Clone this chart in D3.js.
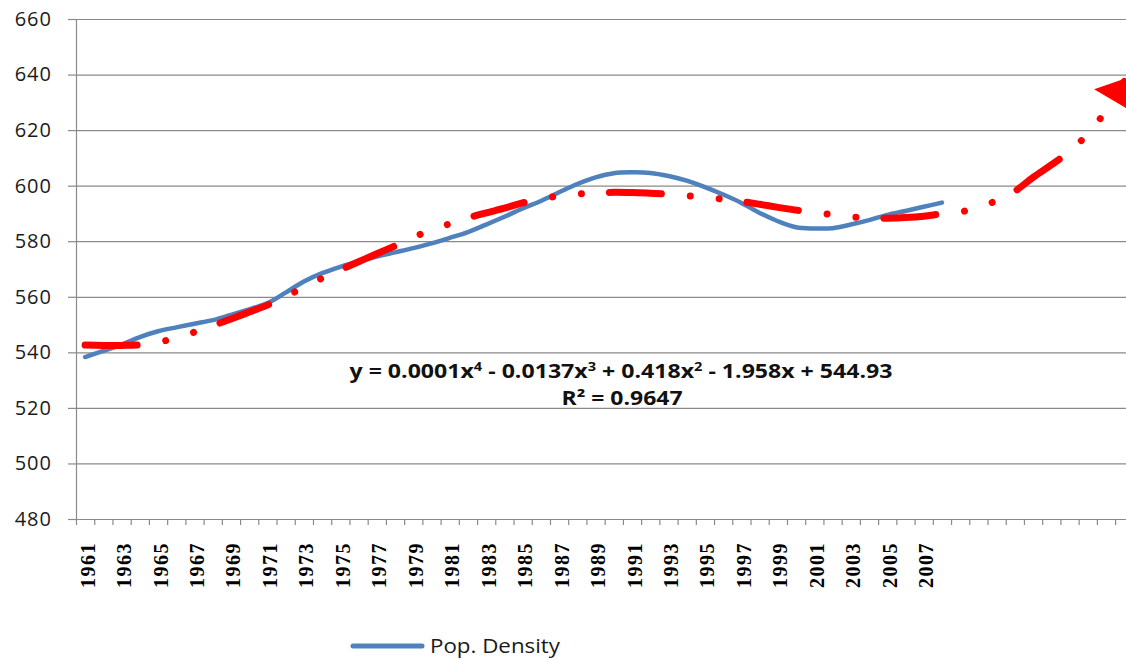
<!DOCTYPE html>
<html>
<head>
<meta charset="utf-8">
<script src="https://cdn.jsdelivr.net/npm/d3@7"></script>
<style>
  body { margin: 0; background: #fff; }
  svg { display: block; }
</style>
</head>
<body>
<script>
// population density, 1961-2008
const popDensity = [
  538.3, 540.5, 542.8, 545.5, 547.6, 549.0, 550.3, 551.6, 553.5, 555.5,
  557.7, 561.5, 565.5, 568.5, 570.8, 572.7, 574.5, 576.0, 577.5, 579.2,
  581.2, 583.3, 586.0, 588.8, 591.8, 594.5, 597.6, 600.6, 603.0, 604.5,
  604.8, 604.6, 603.5, 601.8, 599.5, 596.8, 593.8, 590.2, 587.2, 585.0,
  584.6, 584.7, 586.0, 587.6, 589.5, 590.9, 592.4, 593.9
];
// poly trendline, 48 years + 10 forecast periods
const trendValues = [
  542.6, 542.5, 542.5, 542.7, 543.6, 545.3, 547.3, 549.6, 552.0, 554.5,
  557.0, 560.0, 563.5, 566.7, 569.7, 572.6, 575.5, 578.3, 581.2, 584.4,
  586.2, 588.4, 590.2, 591.9, 593.8, 595.2, 596.3, 597.0, 597.4, 597.6,
  597.5, 597.3, 596.9, 596.4, 595.8, 595.1, 594.3, 593.3, 592.2, 591.2,
  590.3, 589.6, 588.8, 588.4, 588.3, 588.5, 589.0, 589.9, 590.5, 592.3,
  594.6, 598.0, 603.0, 607.5, 612.3, 618.7, 627.0, 637.5
];
const firstYear = 1961;
const yTicks = [480, 500, 520, 540, 560, 580, 600, 620, 640, 660];
const equation = ['y = 0.0001x', '4', ' - 0.0137x', '3', ' + 0.418x', '2', ' - 1.958x + 544.93'];
const rSquared = 'R² = 0.9647';
const seriesName = 'Pop. Density';

const W = 1126, H = 660;
const plotLeft = 76, plotTop = 19, plotBottom = 519, band = 18.23;
const nCats = trendValues.length;

const svg = d3.select('body').append('svg')
  .attr('width', W).attr('height', H);

const x = d3.scaleBand()
  .domain(d3.range(nCats))
  .range([plotLeft, plotLeft + nCats * band])
  .padding(0);
const xEdge = d3.scaleLinear()
  .domain([0, nCats])
  .range([plotLeft, plotLeft + nCats * band]);
const y = d3.scaleLinear().domain([480, 660]).range([plotBottom, plotTop]);

const cx = i => x(i) + x.bandwidth() / 2;

// gridlines
svg.append('g')
  .attr('transform', `translate(${plotLeft},0)`)
  .call(d3.axisLeft(y).tickValues(yTicks).tickSize(-(W - plotLeft)).tickFormat(''))
  .call(g => g.select('.domain').remove())
  .selectAll('line').attr('stroke', '#8a8a8a').attr('stroke-width', 1.2);

// y axis with labels
svg.append('g')
  .attr('transform', `translate(${plotLeft},0)`)
  .call(d3.axisLeft(y).tickValues(yTicks).tickSize(8).tickSizeOuter(0).tickPadding(16))
  .call(g => g.select('.domain').attr('stroke', '#8a8a8a').attr('stroke-width', 1.2))
  .call(g => g.selectAll('line').attr('stroke', '#8a8a8a').attr('stroke-width', 1.2))
  .call(g => g.selectAll('text')
    .attr('fill', '#1a1a1a')
    .style('font-family', '"Open Sans", sans-serif')
    .style('font-size', '20px')
    .style('letter-spacing', '1px'));

// x axis ticks at category edges
svg.append('g')
  .attr('transform', `translate(0,${plotBottom})`)
  .call(d3.axisBottom(xEdge).tickValues(d3.range(nCats + 1)).tickSize(6).tickSizeOuter(0).tickFormat(''))
  .call(g => g.select('.domain').remove())
  .selectAll('line').attr('stroke', '#8a8a8a').attr('stroke-width', 1.2);

// x labels, every other year up to the last data year
const labelIdx = d3.range(0, popDensity.length, 2);
svg.append('g').selectAll('text')
  .data(labelIdx)
  .join('text')
  .attr('transform', i => `translate(${cx(i) + 9.5},542) rotate(-90)`)
  .attr('text-anchor', 'end')
  .style('font-family', '"Liberation Serif", "Times New Roman", serif')
  .style('font-weight', 'bold')
  .style('font-size', '20px')
  .style('letter-spacing', '1.5px')
  .attr('fill', '#000')
  .text(i => firstYear + i);

// data series
const lineGen = d3.line()
  .x((d, i) => cx(i))
  .y(d => y(d))
  .curve(d3.curveCatmullRom.alpha(0.5));

svg.append('path')
  .datum(popDensity)
  .attr('d', lineGen)
  .attr('fill', 'none')
  .attr('stroke', '#4f81bd')
  .attr('stroke-width', 4.5)
  .attr('stroke-linejoin', 'round')
  .attr('stroke-linecap', 'round');

// arrow head for the trendline
svg.append('defs').append('marker')
  .attr('id', 'arrow')
  .attr('markerUnits', 'userSpaceOnUse')
  .attr('viewBox', '-28 -25 34 50')
  .attr('refX', 0).attr('refY', 0)
  .attr('markerWidth', 34).attr('markerHeight', 50)
  .attr('orient', 'auto')
  .append('path')
  .attr('d', 'M4,0 L-22,-22 L-22,22 Z')
  .attr('fill', '#ff0000');

// polynomial trendline, round dot dashes
svg.append('path')
  .datum(trendValues)
  .attr('d', lineGen)
  .attr('fill', 'none')
  .attr('stroke', '#ff0000')
  .attr('stroke-width', 7)
  .attr('stroke-linecap', 'round')
  .attr('stroke-dasharray', '52 29 0.01 29 0.01 28')
  .attr('marker-end', 'url(#arrow)');

// trendline label
const eq = svg.append('text')
  .attr('x', 621).attr('y', 378)
  .attr('text-anchor', 'middle')
  .style('font-family', '"Open Sans", sans-serif')
  .style('font-weight', 'bold')
  .style('font-size', '19px')
  .attr('fill', '#111')
  .attr('textLength', 543)
  .attr('lengthAdjust', 'spacingAndGlyphs');
equation.forEach((t, k) => {
  const sup = k % 2 === 1;
  eq.append('tspan')
    .attr('dy', sup ? -7 : (k > 0 ? 7 : 0))
    .style('font-size', sup ? '12px' : '19px')
    .text(t);
});

svg.append('text')
  .attr('x', 622).attr('y', 405)
  .attr('text-anchor', 'middle')
  .style('font-family', '"Open Sans", sans-serif')
  .style('font-weight', 'bold')
  .style('font-size', '19px')
  .attr('fill', '#111')
  .attr('textLength', 121)
  .attr('lengthAdjust', 'spacingAndGlyphs')
  .text(rSquared);

// legend
const legend = svg.append('g').attr('transform', 'translate(353,646)');
legend.append('line')
  .attr('x1', 0).attr('x2', 69)
  .attr('stroke', '#4f81bd')
  .attr('stroke-width', 5)
  .attr('stroke-linecap', 'round');
legend.append('text')
  .attr('x', 77).attr('y', 7)
  .style('font-family', '"Open Sans", sans-serif')
  .style('font-size', '20px')
  .attr('fill', '#1a1a1a')
  .attr('textLength', 130)
  .attr('lengthAdjust', 'spacingAndGlyphs')
  .text(seriesName);
</script>
</body>
</html>
